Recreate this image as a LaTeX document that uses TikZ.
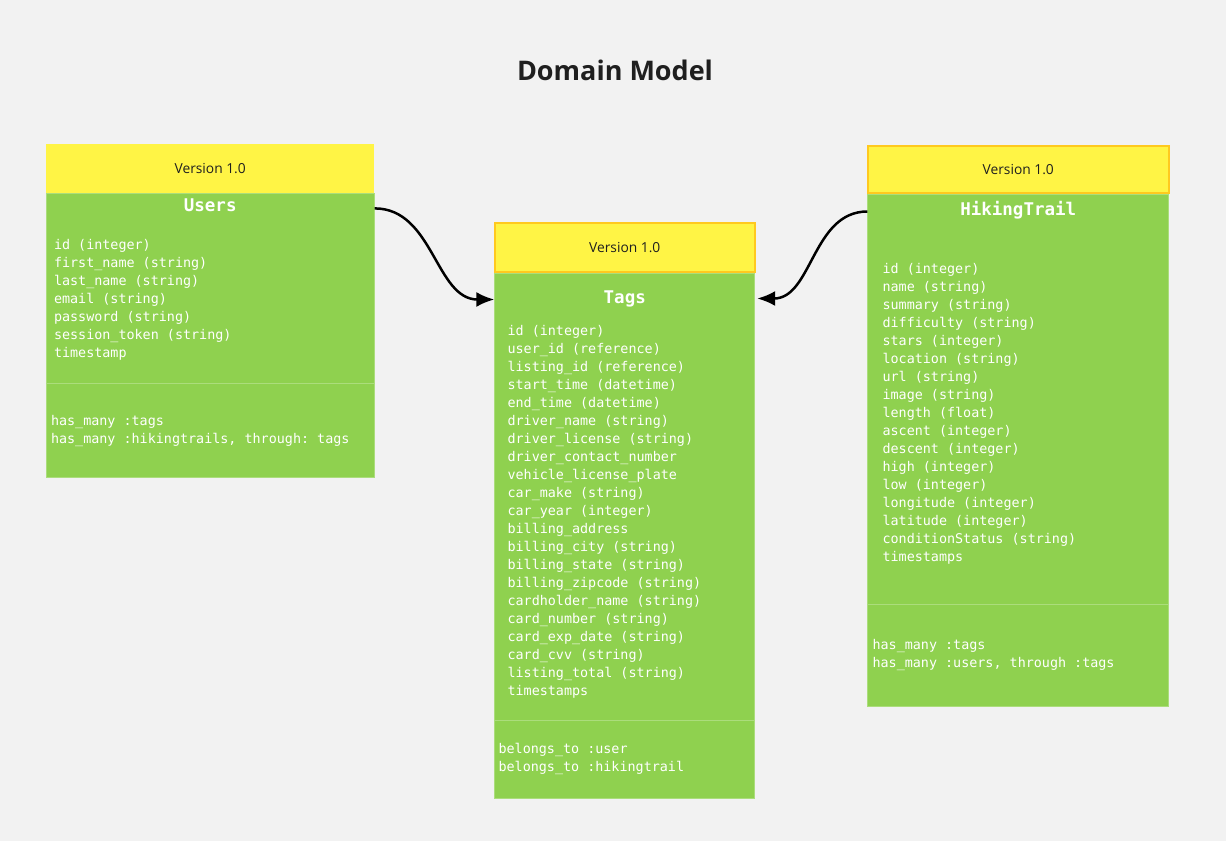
\documentclass[tikz,border=0pt]{standalone}
\usepackage{fontspec}
\setmainfont{Open Sans}
\setmonofont{DejaVu Sans Mono}
\usetikzlibrary{positioning,arrows.meta}
\definecolor{boardgray}{HTML}{F2F2F2}
\definecolor{stickyyellow}{HTML}{FFF445}
\definecolor{stickyedge}{HTML}{FFC91F}
\definecolor{tablegreen}{HTML}{8FD14F}
\definecolor{rulegreen}{HTML}{ABDD7C}
\definecolor{inkgray}{HTML}{1F1F1F}
\tikzstyle{tips}=[%
	 btip/.tip = {Latex[length=18, width=15]},
	 -btip]

\begin{document}
\begin{tikzpicture}[x=1pt, y=-1pt]
			\tikzstyle{header}=[fill=stickyyellow, inner sep=0, anchor=north west, text=inkgray, font=\fontsize{13.8}{16}\selectfont]
			\tikzstyle{edged}=[draw=stickyedge, line width=1.5pt]
			\tikzstyle{tablebody}=[fill=tablegreen, draw=rulegreen, line width=0.8pt, inner sep=0, anchor=north]
			\tikzstyle{tabletitle}=[text=white, inner sep=0, font=\ttfamily\bfseries\fontsize{17.5}{20}\selectfont]
			\tikzstyle{fields}=[text=white, inner sep=0, align=left, anchor=north west, font=\ttfamily\fontsize{13.4}{18}\selectfont]
			\tikzstyle{divider}=[draw=rulegreen, line width=1pt]
			\tikzstyle{link}=[tips, draw=black, line width=2.5pt]
			\useasboundingbox[fill=boardgray] (0,0) rectangle (1226,841);
			\node[font=\bfseries\fontsize{27}{30}\selectfont, text=inkgray] (title) at (615,70) {Domain Model};
			% Users
			\node[header, minimum width=328pt, minimum height=49pt] (usersver) at (46,144) {Version 1.0};
			\node[tablebody, minimum width=328pt, minimum height=284pt] (users) at (usersver.south) {};
			\node[tabletitle] (userstitle) at ([yshift=-12pt]users.north) {Users};
			\node[fields] (usersattr) at ([shift={(8pt,-46pt)}]users.north west) {id (integer)\\first\_name (string)\\last\_name (string)\\email (string)\\password (string)\\session\_token (string)\\timestamp};
			\draw[divider] ([yshift=-190pt]users.north west) -- ([yshift=-190pt]users.north east);
			\node[fields] (usersrel) at ([shift={(5pt,-222pt)}]users.north west) {has\_many :tags\\has\_many :hikingtrails, through: tags};
			% Tags
			\node[header, edged, minimum width=260pt, minimum height=49pt] (tagsver) at (494,222) {Version 1.0};
			\node[tablebody, minimum width=260pt, minimum height=525pt] (tags) at (tagsver.south) {};
			\node[tabletitle] (tagstitle) at ([yshift=-26pt]tags.north) {Tags};
			\node[fields] (tagsattr) at ([shift={(13pt,-53pt)}]tags.north west) {id (integer)\\user\_id (reference)\\listing\_id (reference)\\start\_time (datetime)\\end\_time (datetime)\\driver\_name (string)\\driver\_license (string)\\driver\_contact\_number\\vehicle\_license\_plate\\car\_make (string)\\car\_year (integer)\\billing\_address\\billing\_city (string)\\billing\_state (string)\\billing\_zipcode (string)\\cardholder\_name (string)\\card\_number (string)\\card\_exp\_date (string)\\card\_cvv (string)\\listing\_total (string)\\timestamps};
			\draw[divider] ([yshift=-448pt]tags.north west) -- ([yshift=-448pt]tags.north east);
			\node[fields] (tagsrel) at ([shift={(4pt,-471pt)}]tags.north west) {belongs\_to :user\\belongs\_to :hikingtrail};
			% HikingTrail
			\node[header, edged, minimum width=301pt, minimum height=47pt] (trailver) at (867,145) {Version 1.0};
			\node[tablebody, minimum width=301pt, minimum height=512pt] (trail) at (trailver.south) {};
			\node[tabletitle] (trailtitle) at ([yshift=-17pt]trail.north) {HikingTrail};
			\node[fields] (trailattr) at ([shift={(15pt,-70pt)}]trail.north west) {id (integer)\\name (string)\\summary (string)\\difficulty (string)\\stars (integer)\\location (string)\\url (string)\\image (string)\\length (float)\\ascent (integer)\\descent (integer)\\high (integer)\\low (integer)\\longitude (integer)\\latitude (integer)\\conditionStatus (string)\\timestamps};
			\draw[divider] ([yshift=-411pt]trail.north west) -- ([yshift=-411pt]trail.north east);
			\node[fields] (trailrel) at ([shift={(5pt,-446pt)}]trail.north west) {has\_many :tags\\has\_many :users, through :tags};
			% links
			\draw[link] ([yshift=-15pt]users.north east) to[out=0, in=180] ([yshift=-27pt]tags.north west);
			\draw[link] ([yshift=-18pt]trail.north west) to[out=180, in=0] ([shift={(2pt,-26pt)}]tags.north east);
		\end{tikzpicture}
\end{document}
